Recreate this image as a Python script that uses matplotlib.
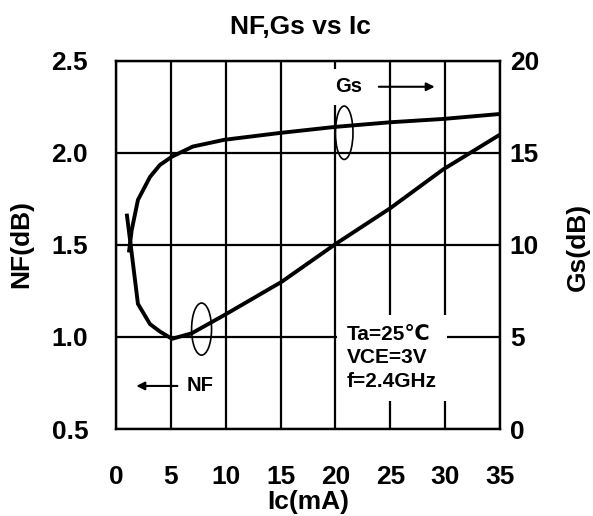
import numpy as np
import matplotlib
matplotlib.use("Agg")
import matplotlib.pyplot as plt
from matplotlib.patches import Ellipse

plt.rcParams['font.family'] = ['Liberation Sans', 'DejaVu Sans']
plt.rcParams['font.weight'] = 'bold'

# values
ic_nf = [1.0, 1.34, 2.0, 3.1, 4.0, 5.1, 6.9, 9.9, 15.1, 20.0, 25.0, 29.8, 35.0]
nf = [1.66, 1.50, 1.18, 1.07, 1.03, 0.99, 1.02, 1.12, 1.30, 1.505, 1.70, 1.91, 2.10]

ic_gs = [1.2, 1.43, 2.0, 3.1, 4.0, 5.1, 7.0, 9.9, 15.1, 20.0, 25.0, 29.8, 35.0]
gs = [9.7, 10.8, 12.45, 13.7, 14.35, 14.8, 15.35, 15.72, 16.1, 16.42, 16.67, 16.85, 17.12]

x_ticks = [0, 5, 10, 15, 20, 25, 30, 35]
nf_ticks = [0.5, 1.0, 1.5, 2.0, 2.5]
gs_ticks = [0, 5, 10, 15, 20]
conditions = "Ta=25\u2103\nVCE=3V\nf=2.4GHz"

fig = plt.figure(figsize=(5.93, 5.16), dpi=100)
ax = fig.add_axes([0.1956, 0.1686, 0.6476, 0.7132])
ax2 = ax.twinx()

ax.set_xlim(0, 35)
ax.set_ylim(0.5, 2.5)
ax2.set_ylim(0, 20)
ax.set_xticks(x_ticks)
ax.set_yticks(nf_ticks)
ax2.set_yticks(gs_ticks)
ax.set_yticklabels(["%.1f" % v for v in nf_ticks])
ax.grid(True, color='black', lw=1.6)
ax.set_axisbelow(True)

ax.tick_params(axis='both', length=0, labelsize=19)
ax.tick_params(axis='x', pad=26)
ax.tick_params(axis='y', pad=20)
ax2.tick_params(axis='y', length=0, labelsize=19, pad=7)
for a in (ax, ax2):
    for s in a.spines.values():
        s.set_linewidth(1.6)

ax.plot(ic_nf, nf, color='black', lw=2.8, solid_joinstyle='round')
ax2.plot(ic_gs, gs, color='black', lw=2.8, solid_joinstyle='round')

# ellipses marking each curve
ax.add_patch(Ellipse((7.8, 1.043), 1.82, 0.283, fill=False, color='black', lw=1.2))
ax2.add_patch(Ellipse((20.8, 16.1), 1.6, 2.9, fill=False, color='black', lw=1.2))

# curve labels with arrows
ax2.text(21.2, 18.6, "Gs", fontsize=14.5, ha='center', va='center',
         bbox=dict(facecolor='white', edgecolor='none', pad=6))
ax2.annotate("", xy=(29.3, 18.6), xytext=(23.7, 18.6),
             arrowprops=dict(arrowstyle='-|>', color='black', lw=1.5,
                             mutation_scale=12))
ax.text(7.7, 0.734, "NF", fontsize=14.5, ha='center', va='center')
ax.annotate("", xy=(1.6, 0.734), xytext=(5.85, 0.734),
            arrowprops=dict(arrowstyle='-|>', color='black', lw=1.5,
                            mutation_scale=12))

ax2.text(21.05, 3.86, conditions, fontsize=15, ha='left', va='center',
         linespacing=1.3,
         bbox=dict(boxstyle='square,pad=0.5', facecolor='white', edgecolor='none'))

fig.text(0.506, 0.948, "NF,Gs vs Ic", fontsize=19, ha='center', va='center')
fig.text(0.52, 0.027, "Ic(mA)", fontsize=19, ha='center', va='center')
fig.text(0.0354, 0.527, "NF(dB)", fontsize=19, rotation=90, ha='center', va='center')
fig.text(0.975, 0.521, "Gs(dB)", fontsize=19, rotation=90, ha='center', va='center')

fig.savefig("out.png", dpi=100)
